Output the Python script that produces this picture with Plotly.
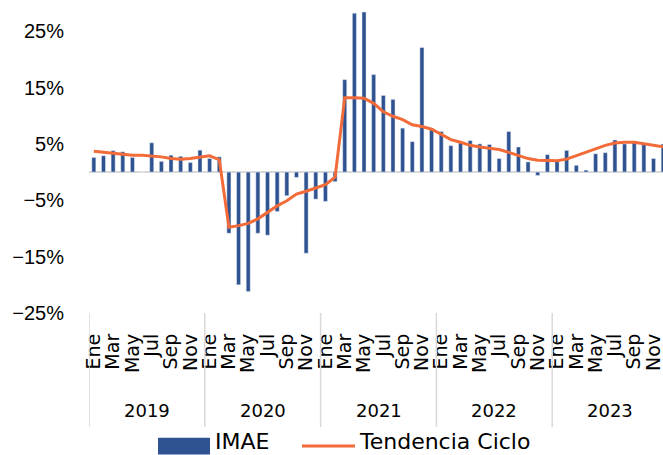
import plotly.graph_objects as go

years = ["2019", "2020", "2021", "2022", "2023"]
months = ["Ene", "Feb", "Mar", "Abr", "May", "Jun", "Jul", "Ago", "Sep", "Oct", "Nov", "Dic"]

imae = [2.6, 2.9, 3.8, 3.6, 2.6, 0.0, 5.2, 1.9, 3.0, 2.8, 1.7, 3.9,
        2.4, 2.7, -10.85, -20.0, -21.2, -10.85, -11.2, -7.0, -4.2, -0.95, -14.4, -4.8,
        -5.2, -1.7, 16.4, 28.2, 28.4, 17.3, 13.6, 12.9, 7.8, 5.4, 22.1, 7.8,
        7.2, 4.7, 5.2, 5.6, 5.0, 4.9, 2.4, 7.2, 4.45, 1.8, -0.6, 3.1,
        1.9, 3.85, 1.2, 0.35, 3.25, 3.45, 5.7, 5.0, 5.5, 5.15, 2.4, 5.0]

tendencia = [3.7, 3.5, 3.3, 3.1, 3.0, 3.0, 2.85, 2.7, 2.4, 2.3, 2.4, 2.7,
             2.9, 2.2, -9.8, -9.5, -9.1, -8.3, -7.2, -6.0, -5.1, -3.9, -3.4, -2.85,
             -2.25, -0.9, 13.2, 13.2, 13.1, 12.2, 10.7, 9.9, 9.3, 8.4, 8.1, 7.6,
             6.6, 5.75, 5.3, 4.75, 4.45, 4.2, 4.0, 3.5, 2.9, 2.4, 2.1, 2.0,
             2.0, 2.3, 2.9, 3.55, 4.15, 4.75, 5.15, 5.3, 5.3, 5.0, 4.7, 4.5]

y_ticks = [-25, -15, -5, 5, 15, 25]
y_tick_labels = ["\u221225%", "\u221215%", "\u22125%", "5%", "15%", "25%"]

n = len(imae)
xs = list(range(n))
month_labels = [months[i % 12] for i in xs]

BLUE = "#2F5290"
ORANGE = "#F26B38"
GRAY = "#D9D9D9"
TXT_FONT = "DejaVu Sans"

W, H = 663, 455
ML, MR, MT, MB = 89, 0, 3, 142
PW = W - ML - MR
PH = H - MT - MB
px_per_month = 9.65


def pxx(p):
    return (p - ML) / PW


def pxy(p):
    return (MT + PH - p) / PH


fig = go.Figure()
fig.add_trace(go.Bar(x=xs, y=imae, name="IMAE", marker_color=BLUE, width=0.42,
                     showlegend=False))
fig.add_trace(go.Scatter(x=xs, y=tendencia, name="Tendencia Ciclo", mode="lines",
                         line=dict(color=ORANGE, width=3), showlegend=False))

shapes = []
for k in range(len(years)):
    xv = k * 12 - 0.5
    shapes.append(dict(type="line", xref="x", yref="paper", x0=xv, x1=xv,
                       y0=pxy(313), y1=pxy(427), line=dict(color=GRAY, width=1.5)))

annotations = []
for k, yr in enumerate(years):
    annotations.append(dict(x=k * 12 + 5.5, y=pxy(410), xref="x", yref="paper",
                            text=yr, showarrow=False, xanchor="center", yanchor="middle",
                            font=dict(family=TXT_FONT, size=18, color="#000000")))

# custom legend
shapes.append(dict(type="rect", xref="paper", yref="paper", x0=pxx(158), x1=pxx(210),
                   y0=pxy(454.5), y1=pxy(437.7), fillcolor=BLUE, line=dict(width=0)))
shapes.append(dict(type="line", xref="paper", yref="paper", x0=pxx(302), x1=pxx(355),
                   y0=pxy(446), y1=pxy(446), line=dict(color=ORANGE, width=3)))
annotations.append(dict(x=pxx(214), y=pxy(455), xref="paper", yref="paper", text="IMAE",
                        showarrow=False, xanchor="left", yanchor="bottom", borderpad=0,
                        font=dict(family=TXT_FONT, size=22, color="#000000")))
annotations.append(dict(x=pxx(358), y=pxy(455), xref="paper", yref="paper",
                        text="Tendencia Ciclo", showarrow=False, xanchor="left",
                        yanchor="bottom", borderpad=0,
                        font=dict(family=TXT_FONT, size=22, color="#000000")))

fig.update_layout(
    width=W, height=H,
    margin=dict(l=ML, r=MR, t=MT, b=MB, pad=0),
    paper_bgcolor="white", plot_bgcolor="white",
    shapes=shapes, annotations=annotations,
    bargap=0.5,
)
fig.update_xaxes(
    range=[-0.5, -0.5 + PW / px_per_month],
    tickmode="array", tickvals=xs[::2], ticktext=month_labels[::2],
    tickangle=-90, tickfont=dict(family=TXT_FONT, size=19, color="#000000"),
    showgrid=False, showline=False, zeroline=False, ticks="",
    ticklabelstandoff=16, ticklabeloverflow="allow",
)
fig.update_yaxes(
    range=[-25, 30], tickmode="array", tickvals=y_ticks, ticktext=y_tick_labels,
    tickfont=dict(family="Liberation Sans", size=20, color="#000000"),
    showgrid=False, showline=False, zeroline=True, zerolinecolor=GRAY,
    zerolinewidth=2, ticks="", ticklabelstandoff=24,
)

fig.write_html("out.html", config={"displayModeBar": False},
               post_script="document.body.style.margin='0px';document.body.style.padding='0px';")
